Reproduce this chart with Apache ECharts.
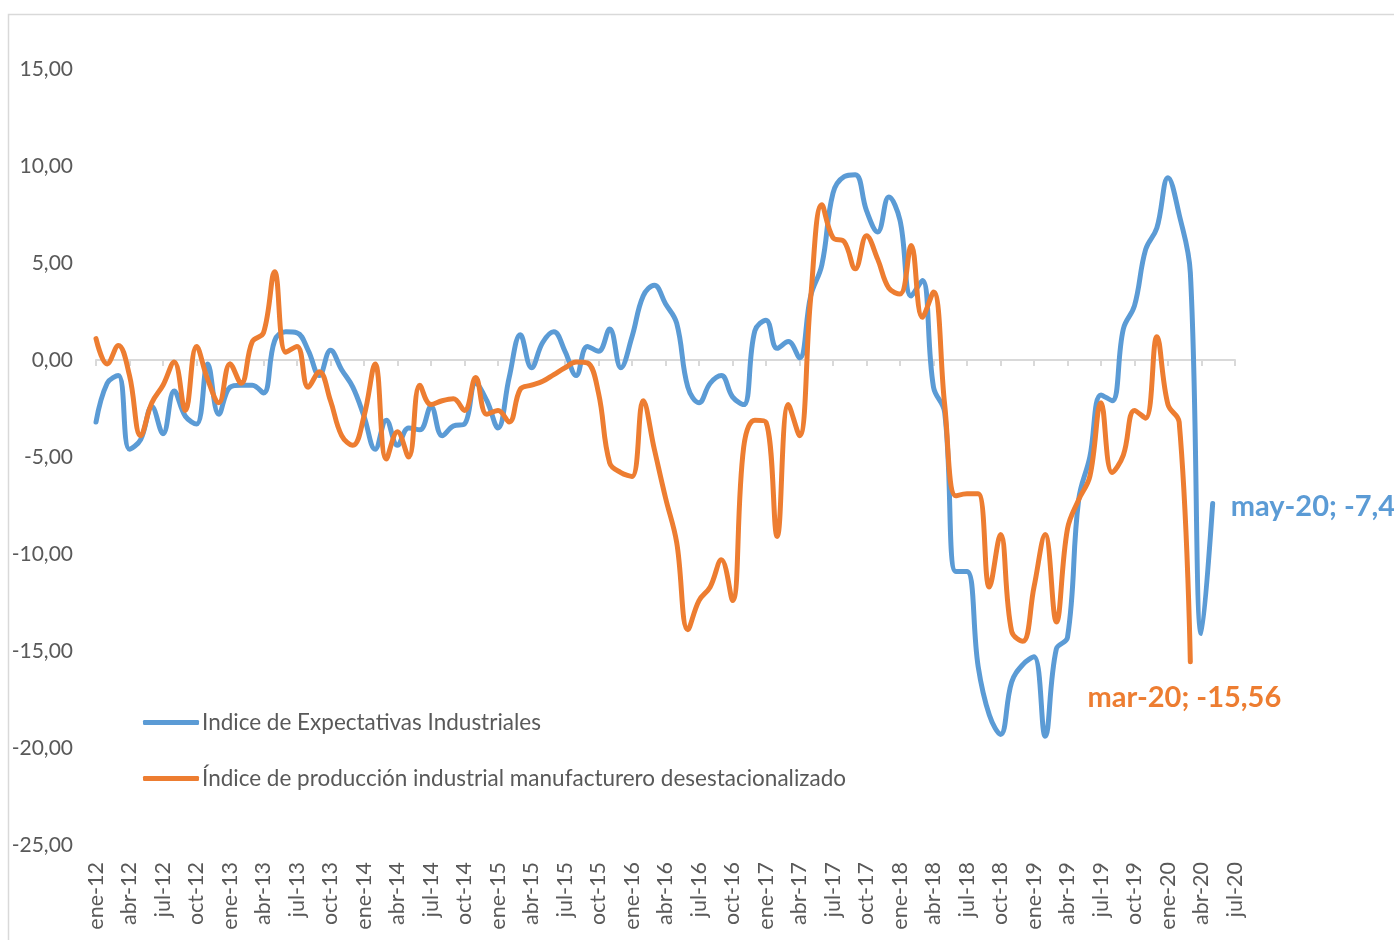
<!DOCTYPE html>
<html>
<head>
<meta charset="utf-8">
<script src="https://cdn.jsdelivr.net/npm/echarts@6/dist/echarts.min.js"></script>
<style>
html,body{margin:0;padding:0;background:#fff;}
#chart{width:1394px;height:940px;}
</style>
</head>
<body>
<div id="chart"></div>
<script>
const monthNames = ['ene','feb','mar','abr','may','jun','jul','ago','sep','oct','nov','dic'];
const years = ['12','13','14','15','16','17','18','19','20'];
const lastMonthIndex = 6; // jul-20
const categories = [];
years.forEach((y, yi) => {
  monthNames.forEach((m, mi) => {
    if (yi === years.length - 1 && mi > lastMonthIndex) return;
    categories.push(m + '-' + y);
  });
});

const seriesNames = ['Indice de Expectativas Industriales', 'Índice de producción industrial manufacturero desestacionalizado'];

const expectativas = [
  -3.2, -1.2, -0.8, -4.6, -4.1, -2.4, -3.8, -1.6, -2.9, -3.3, -0.2, -2.8,
  -1.4, -1.3, -1.3, -1.7, 1.0, 1.45, 1.4, 0.5, -0.8, 0.5, -0.5, -1.4,
  -2.9, -4.6, -3.1, -4.4, -3.5, -3.6, -2.4, -3.9, -3.4, -3.3, -1.2, -2.1,
  -3.5, -0.9, 1.3, -0.4, 0.9, 1.45, 0.45, -0.8, 0.7, 0.45, 1.6, -0.4,
  1.2, 3.3, 3.85, 2.9, 1.9, -1.4, -2.2, -1.2, -0.8, -1.9, -2.3, 1.5,
  2.05, 0.6, 0.95, 0.1, 3.3, 4.9, 8.6, 9.45, 9.55, 7.7, 6.6, 8.4,
  7.2, 3.3, 4.1, -1.4, -2.7, -10.9, -10.9, -15.8, -18.3, -19.3, -16.6, -15.7,
  -15.3, -19.4, -14.9, -14.3, -7.2, -5.0, -1.8, -2.1, 1.6, 2.8, 5.7, 6.8,
  9.4, 7.5, 4.5, -14.1, -7.4
];

const produccion = [
  1.1, -0.2, 0.75, -0.8, -3.9, -2.2, -1.3, -0.1, -2.6, 0.7, -1.0, -2.2,
  -0.2, -1.2, 0.95, 1.4, 4.55, 0.4, 0.7, -1.4, -0.6, -2.1, -3.9, -4.4,
  -2.9, -0.2, -5.1, -3.7, -5.0, -1.3, -2.3, -2.1, -2.0, -2.6, -0.9, -2.8,
  -2.6, -3.2, -1.5, -1.3, -1.1, -0.75, -0.4, -0.1, -0.15, -1.7, -5.3, -5.8,
  -6.0, -2.1, -4.6, -7.1, -9.4, -13.9, -12.4, -11.7, -10.3, -12.4, -4.5, -3.1,
  -3.2, -9.1, -2.3, -3.9, 3.2, 8.0, 6.3, 6.1, 4.7, 6.4, 5.2, 3.7,
  3.4, 5.9, 2.2, 3.5, -2.3, -7.0, -6.9, -6.9, -11.7, -9.0, -14.0, -14.5,
  -11.7, -9.0, -13.5, -8.7, -7.2, -6.0, -2.2, -5.8, -4.9, -2.6, -3.0, 1.2,
  -2.3, -3.2, -15.56
];

const BLUE = '#5B9BD5';
const ORANGE = '#ED7D31';
const TEXT = '#595959';
const FONT = 'Lato';

function fmtNum(v) { return String(v).replace('.', ','); }
function endLabelText(arr) {
  const i = arr.length - 1;
  return categories[i] + '; ' + fmtNum(arr[i]);
}

const chart = echarts.init(document.getElementById('chart'));
chart.setOption({
  animation: false,
  backgroundColor: '#fff',
  textStyle: { fontFamily: FONT },
  graphic: [{
    type: 'rect', silent: true,
    shape: { x: 8.5, y: 14.5, width: 1500, height: 1000 },
    style: { fill: 'none', stroke: '#d9d9d9', lineWidth: 1.5 }
  }],
  grid: { left: 96, right: 159, top: 69, bottom: 95, containLabel: false },
  legend: {
    orient: 'vertical', left: 138, top: 706, itemGap: 33, padding: 5,
    itemWidth: 56, itemHeight: 5, icon: 'roundRect',
    textStyle: { color: TEXT, fontSize: 22.5, fontFamily: FONT, padding: [0, 0, 0, -2] },
    data: seriesNames
  },
  xAxis: [{
    type: 'category', data: categories, boundaryGap: false, position: 'bottom',
    axisLine: { onZero: true, lineStyle: { color: '#d9d9d9', width: 2 } },
    axisTick: { show: true, interval: 2, length: 6, lineStyle: { color: '#d9d9d9', width: 2 } },
    axisLabel: { show: false },
    splitLine: { show: false }
  }, {
    type: 'category', data: categories, boundaryGap: false, position: 'bottom',
    axisLine: { show: false, onZero: false },
    axisTick: { show: false },
    axisLabel: { show: true, interval: 2, rotate: 90, margin: 17, color: TEXT, fontSize: 21.5, fontFamily: FONT },
    splitLine: { show: false }
  }],
  yAxis: {
    type: 'value', min: -25, max: 15, interval: 5,
    axisLine: { show: false }, axisTick: { show: false },
    splitLine: { show: false },
    axisLabel: {
      margin: 23, color: TEXT, fontSize: 21, fontFamily: FONT,
      formatter: v => v.toFixed(2).replace('.', ',')
    }
  },
  series: [{
    name: seriesNames[0], type: 'line', data: expectativas, xAxisIndex: 0,
    smooth: 0.4, showSymbol: false, symbol: 'none',
    lineStyle: { color: BLUE, width: 5, cap: 'round', join: 'round' },
    itemStyle: { color: BLUE },
    z: 3,
    markPoint: {
      symbol: 'circle', symbolSize: 0, silent: true,
      data: [{ coord: [categories[expectativas.length - 1], expectativas[expectativas.length - 1]] }],
      label: {
        show: true, position: 'right', distance: 18, offset: [0, 3],
        formatter: () => endLabelText(expectativas),
        color: BLUE, fontWeight: 'bold', fontSize: 29, fontFamily: FONT
      }
    }
  }, {
    name: seriesNames[1], type: 'line', data: produccion, xAxisIndex: 0,
    smooth: 0.4, showSymbol: false, symbol: 'none',
    lineStyle: { color: ORANGE, width: 5, cap: 'round', join: 'round' },
    itemStyle: { color: ORANGE },
    z: 4,
    markPoint: {
      symbol: 'circle', symbolSize: 0, silent: true,
      data: [{ coord: [categories[produccion.length - 1], produccion[produccion.length - 1]] }],
      label: {
        show: true, position: 'bottom', distance: 21, offset: [-6, 0],
        formatter: () => endLabelText(produccion),
        color: ORANGE, fontWeight: 'bold', fontSize: 29, fontFamily: FONT
      }
    }
  }]
});
</script>
</body>
</html>
